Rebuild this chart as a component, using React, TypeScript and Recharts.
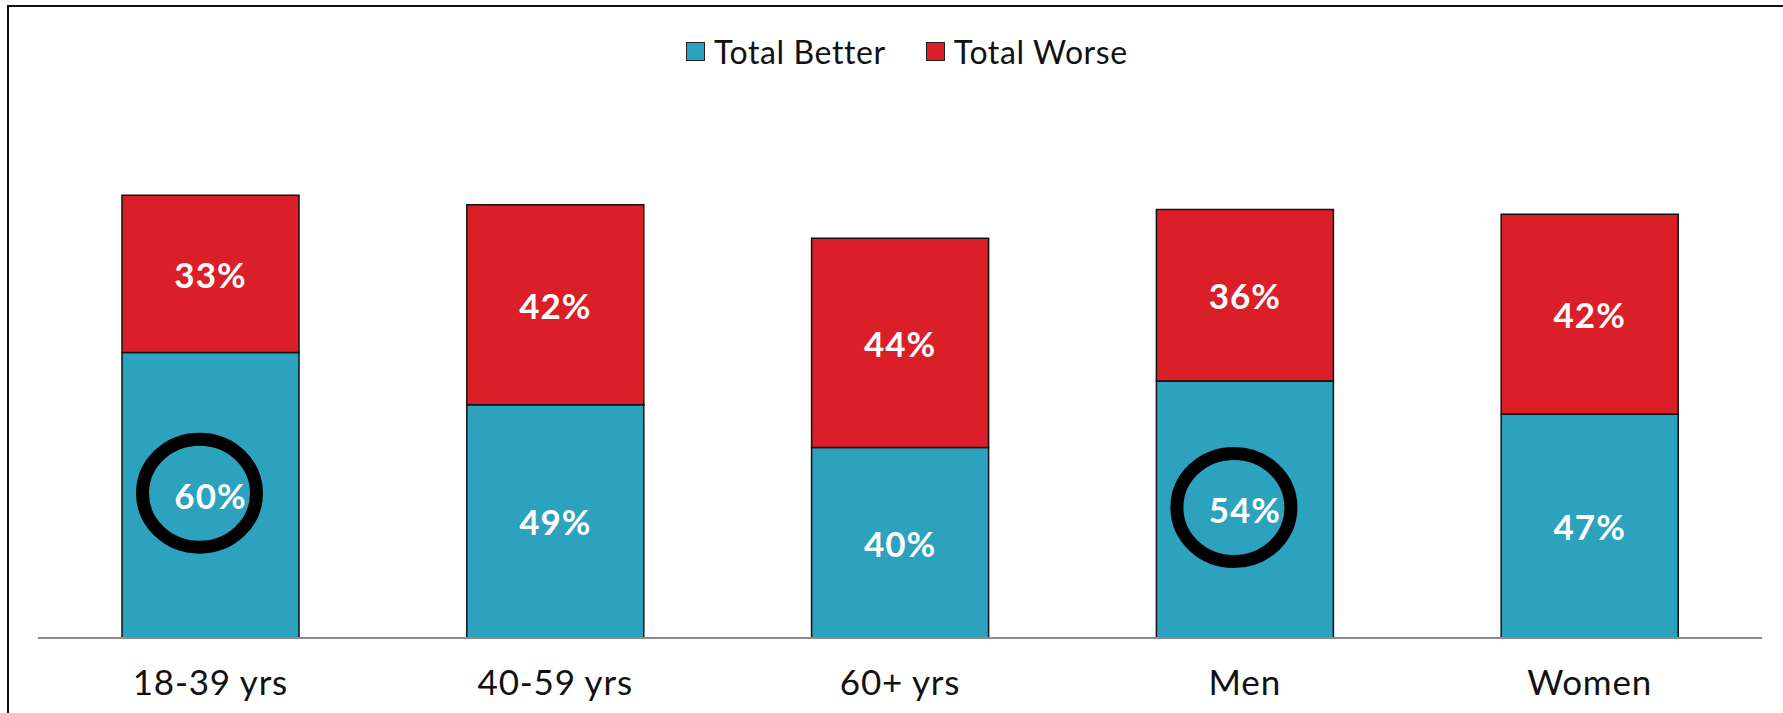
import React from 'react';
import { BarChart, Bar, XAxis, YAxis, LabelList } from 'recharts';

const CATEGORIES = ['18-39 yrs', '40-59 yrs', '60+ yrs', 'Men', 'Women'];
const TOTAL_BETTER = [60, 49, 40, 54, 47];
const TOTAL_WORSE = [33, 42, 44, 36, 42];
const CIRCLED = ['18-39 yrs', 'Men'];

const SERIES = [
  { key: 'better', name: 'Total Better', color: '#2ca2be' },
  { key: 'worse', name: 'Total Worse', color: '#da1f29' },
];

const FONT = 'Lato, "Open Sans", sans-serif';

const data = CATEGORIES.map((name, i) => ({
  name,
  better: TOTAL_BETTER[i],
  worse: TOTAL_WORSE[i],
}));

const makeLabel = (withCircle: boolean) => (props: any) => {
  const { x, y, width, height, value, index } = props;
  const cx = x + width / 2;
  const cy = y + height / 2;
  const circled = withCircle && CIRCLED.includes(CATEGORIES[index]);
  return (
    <g>
      <text
        x={cx}
        y={cy}
        textAnchor="middle"
        dominantBaseline="central"
        fill="#fff"
        fontFamily={FONT}
        fontWeight={700}
        fontSize={35}
        letterSpacing={1}
      >
        {value}%
      </text>
      {circled && (
        <ellipse cx={cx - 11} cy={cy - 2} rx={57} ry={54} fill="none" stroke="#000" strokeWidth={13} />
      )}
    </g>
  );
};

const CategoryTick = (props: any) => {
  const { x, y, payload } = props;
  return (
    <text x={x} y={y + 49} textAnchor="middle" fill="#111" fontFamily={FONT} fontSize={35} letterSpacing={0.8}>
      {payload.value}
    </text>
  );
};

export default function App() {
  return (
    <div style={{ position: 'absolute', left: 0, top: 0, width: 1783, height: 713, overflow: 'hidden', background: '#fff' }}>
      <div
        style={{
          position: 'absolute',
          left: 7,
          top: 5,
          width: 1900,
          height: 800,
          border: '2px solid #111',
        }}
      />
      <div
        style={{
          position: 'absolute',
          left: 686,
          top: 32,
          display: 'flex',
          alignItems: 'center',
          fontFamily: FONT,
          fontSize: 32,
          letterSpacing: 0.6,
          color: '#111',
        }}
      >
        {SERIES.map((s, i) => (
          <div key={s.key} style={{ display: 'flex', alignItems: 'center', marginRight: i === 0 ? 40 : 0 }}>
            <div style={{ width: 17, height: 17, background: s.color, border: '1.5px solid #222', marginRight: 9 }} />
            <span>{s.name}</span>
          </div>
        ))}
      </div>
      <div style={{ position: 'absolute', left: 0, top: 0 }}>
        <BarChart
          width={1783}
          height={713}
          data={data}
          margin={{ top: 162, right: 21, bottom: 0, left: 38 }}
          barSize={177}
        >
          <XAxis
            dataKey="name"
            height={75}
            axisLine={{ stroke: '#8c8c8c', strokeWidth: 2 }}
            tickLine={false}
            tick={<CategoryTick />}
            interval={0}
          />
          <YAxis hide domain={[0, 100]} />
          <Bar dataKey="better" name="Total Better" stackId="a" fill={SERIES[0].color} stroke="#111" strokeWidth={1.5} isAnimationActive={false}>
            <LabelList dataKey="better" content={makeLabel(true)} />
          </Bar>
          <Bar dataKey="worse" name="Total Worse" stackId="a" fill={SERIES[1].color} stroke="#111" strokeWidth={1.5} isAnimationActive={false}>
            <LabelList dataKey="worse" content={makeLabel(false)} />
          </Bar>
        </BarChart>
      </div>
    </div>
  );
}
